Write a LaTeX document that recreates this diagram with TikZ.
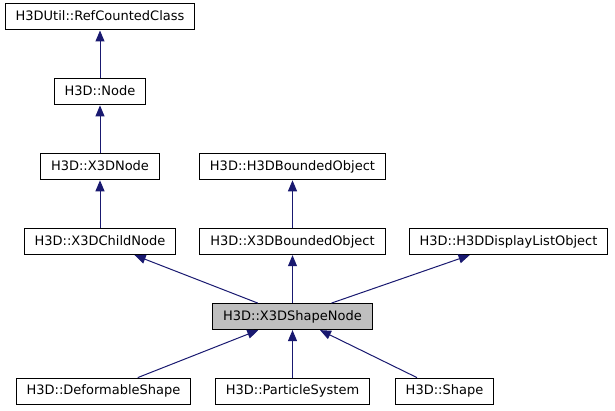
\documentclass[tikz,border=0pt]{standalone}
\usepackage{fontspec}
\setmainfont{DejaVu Sans}
\usepackage{tikz}
\usetikzlibrary{arrows.meta}
\definecolor{edgeblue}{HTML}{191970}
\definecolor{currentgray}{HTML}{BFBFBF}
\tikzstyle{classbox} =
[rectangle, minimum height = 26pt, inner xsep = 10.5pt, inner ysep = 0pt,
text height = 9.6pt, text depth = 2.8pt, draw=black, line width = 1pt,
font = \fontsize{13pt}{15pt}\selectfont, fill=white]
\tikzstyle{current} =
[classbox, fill=currentgray]
\tikzstyle{line} = [draw, edgeblue, line width = 1pt,
-{Triangle[length=11pt, width=9pt]}]

\begin{document}
\begin{tikzpicture}[x=1pt, y=1pt, node distance = 74.9pt, auto]
  \useasboundingbox (0,0) rectangle (615,-411);
  % left column
  \node [classbox] at (100,-17) (refcounted) {H3DUtil::RefCountedClass};
  \node [classbox, below of=refcounted] (h3dnode) {H3D::Node};
  \node [classbox, below of=h3dnode] (x3dnode) {H3D::X3DNode};
  \node [classbox, below of=x3dnode] (childnode) {H3D::X3DChildNode};
  % middle and right columns
  \node [classbox, right of=x3dnode, node distance=192.5pt] (h3dbounded)
   {H3D::H3DBoundedObject};
  \node [classbox, below of=h3dbounded] (x3dbounded)
   {H3D::X3DBoundedObject};
  \node [classbox, right of=x3dbounded, node distance=216pt] (displaylist)
   {H3D::H3DDisplayListObject};
  \node [current, below of=x3dbounded] (shapenode) {H3D::X3DShapeNode};
  % derived classes
  \node [classbox, below of=shapenode, node distance=74.5pt] (particles)
   {H3D::ParticleSystem};
  \node [classbox, left of=particles, node distance=189pt] (deformable)
   {H3D::DeformableShape};
  \node [classbox, right of=particles, node distance=152pt] (shape)
   {H3D::Shape};
  % upper edges
  \path [line] (h3dnode) -- (refcounted);
  \path [line] (x3dnode) -- (h3dnode);
  \path [line] (childnode) -- (x3dnode);
  \path [line] (x3dbounded) -- (h3dbounded);
  \path [line] (shapenode) -- (childnode);
  \path [line] (shapenode) -- (x3dbounded);
  \path [line] (shapenode) -- (displaylist);
  % lower edges
  \path [line] (deformable) -- (shapenode);
  \path [line] (particles) -- (shapenode);
  \path [line] (shape) -- (shapenode);
\end{tikzpicture}
\end{document}
